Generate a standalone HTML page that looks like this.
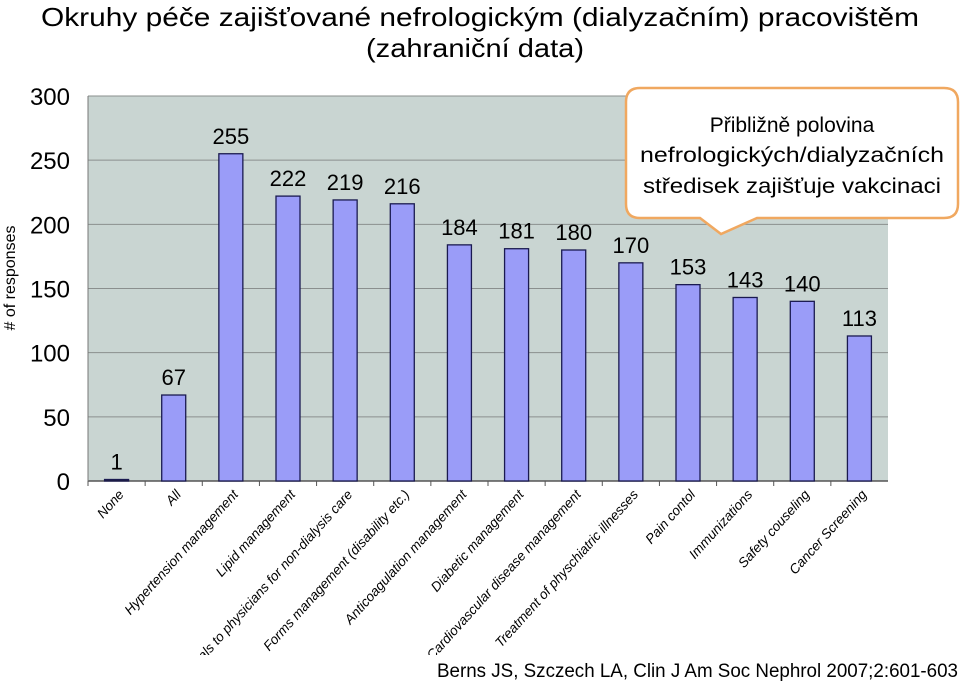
<!DOCTYPE html>
<html><head><meta charset="utf-8"><style>
html,body{margin:0;padding:0;background:#fff;width:960px;height:681px;overflow:hidden}
svg{display:block}
text{font-family:"Liberation Sans",sans-serif}
</style></head><body>
<svg id="chart" width="960" height="681" viewBox="0 0 960 681" xmlns="http://www.w3.org/2000/svg">
<defs><clipPath id="xclip"><rect x="0" y="485" width="960" height="170"/></clipPath></defs>
<text x="480" y="26" font-size="26" text-anchor="middle" textLength="878" lengthAdjust="spacingAndGlyphs" fill="#000">Okruhy péče zajišťované nefrologickým (dialyzačním) pracovištěm</text>
<text x="475" y="57" font-size="26" text-anchor="middle" textLength="218" lengthAdjust="spacingAndGlyphs" fill="#000">(zahraniční data)</text>
<rect x="88" y="96" width="800" height="385" fill="#c9d5d2"/>
<g id="grid"></g>
<g id="bars"></g>
<g id="ylabels"></g>
<g id="xlabels" clip-path="url(#xclip)"></g>
<text transform="translate(15,278) rotate(-90)" font-size="16" text-anchor="middle" fill="#000">#  of responses</text>
<g>
<path d="M640,88 H944 Q958,88 958,102 V204 Q958,218 944,218 H757 L721,234 L700,218 H640 Q626,218 626,204 V102 Q626,88 640,88 Z" fill="#fff" stroke="#f0a860" stroke-width="2.5"/>
<text x="792" y="132" font-size="21" text-anchor="middle" fill="#000">Přibližně polovina</text>
<text x="792" y="162" font-size="21" text-anchor="middle" textLength="304" lengthAdjust="spacingAndGlyphs" fill="#000">nefrologických/dialyzačních</text>
<text x="792" y="193" font-size="21" text-anchor="middle" textLength="298" lengthAdjust="spacingAndGlyphs" fill="#000">středisek zajišťuje vakcinaci</text>
</g>
<text x="437" y="677" font-size="19" textLength="521" lengthAdjust="spacingAndGlyphs" fill="#000">Berns JS, Szczech LA, Clin J Am Soc Nephrol  2007;2:601-603</text>
</svg>
<script>
const categories = ["None","All","Hypertension management","Lipid management","Referrals to physicians for non-dialysis care","Forms management (disability etc.)","Anticoagulation management","Diabetic management","Cardiovascular disease management","Treatment of physchiatric illnesses","Pain contol","Immunizations","Safety couseling","Cancer Screening"];
const values = [1,67,255,222,219,216,184,181,180,170,153,143,140,113];
const yTicks = [0,50,100,150,200,250,300];
const NS="http://www.w3.org/2000/svg";
const X0=88,X1=888,Y0=481,Y1=96,YMAX=300;
const bw=(X1-X0)/categories.length;
function xc(i){return X0+bw*(i+0.5);}
function y(v){return Y0-(v/YMAX)*(Y0-Y1);}
function mk(tag,attrs,parent,txt){const e=document.createElementNS(NS,tag);for(const k in attrs)e.setAttribute(k,attrs[k]);if(txt!==undefined)e.textContent=txt;parent.appendChild(e);return e;}
const grid=document.getElementById('grid'),bars=document.getElementById('bars'),yl=document.getElementById('ylabels'),xl=document.getElementById('xlabels');
yTicks.forEach(t=>{
  const l=mk('line',{x1:X0,x2:X1,y1:y(t),y2:y(t),stroke:t===0?'#555':'#8a8f8e','stroke-width':t===0?1.5:1},grid);
  
  
  const tx=mk('text',{x:70,y:y(t)+9,'font-size':24,'text-anchor':'end',fill:'#000'},yl,String(t));
  
  
});
mk('line',{x1:X0,x2:X0,y1:Y1,y2:Y0,stroke:'#777','stroke-width':1},grid);
categories.forEach((c,i)=>{
  const v=values[i],w=24,cx=xc(i);
  const tk=mk('line',{x1:X0+bw*i,x2:X0+bw*i,y1:Y0,y2:Y0+5,stroke:'#555'},grid);
  
  
  const h=Math.max(Y0-y(v),1.5);
  const r=mk('rect',{x:cx-w/2,y:Y0-h,width:w,height:h,fill:v<3?'#222':'#9a9cf8',stroke:'#1a1a50','stroke-width':1.3},bars);
  
  
  const t=mk('text',{x:cx,y:y(v)-10,'font-size':22,'text-anchor':'middle',fill:'#000'},bars,String(v));
  
  
  const lb=mk('text',{transform:`translate(${cx+8},${Y0+14}) rotate(-48)`,'font-size':13.5,'font-style':'italic','text-anchor':'end',fill:'#000'},xl,c);
  
  
});
</script>
</body></html>
